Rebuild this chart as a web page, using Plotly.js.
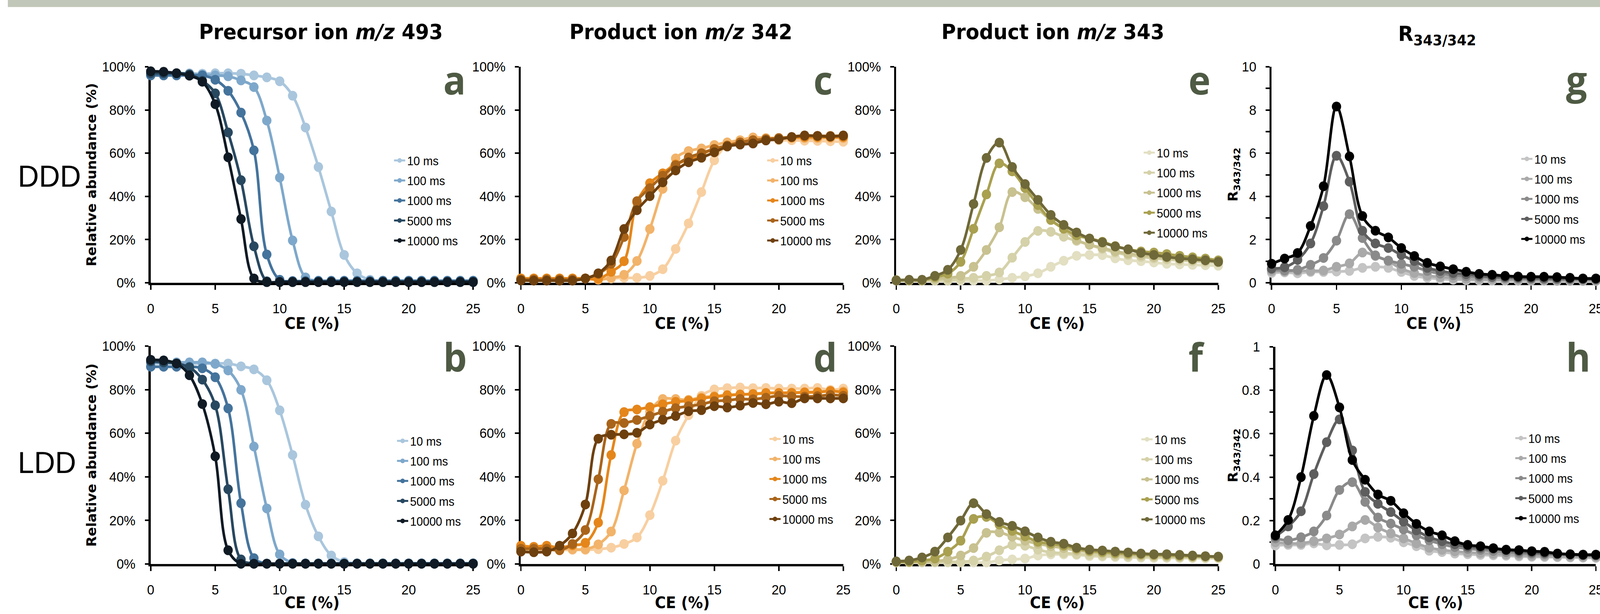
<!DOCTYPE html>
<html>
<head>
<meta charset="utf-8">
<script src="https://cdn.plot.ly/plotly-3.0.1.min.js"></script>
<style>html,body{margin:0;padding:0;background:#fff;overflow:hidden;}#chart{width:4288px;height:1572px;transform-origin:0 0;}</style>
</head>
<body>
<div id="chart"></div>
<script>
// ---------- data ----------
const CE = [0,1,2,3,4,5,6,7,8,9,10,11,12,13,14,15,16,17,18,19,20,21,22,23,24,25];
const seriesNames = ["10 ms","100 ms","1000 ms","5000 ms","10000 ms"];

// (a) DDD precursor m/z 493
const a10    = [97,97,97,97,96.8,97,97,96.8,96,95.1,93.3,86.6,71.9,53.6,33,12.9,4.4,1.4,1,1,1,1,1,1,1,1];
const a100   = [96.5,96.5,96.5,96.4,96.3,96,95.6,93.7,90.6,75.1,48.7,19.6,2.5,1,1,1,1,1,1,1,1,1,1,1,1,1];
const a1000  = [96,96,96,96,96,94,88.9,78.8,61.3,13.1,1.4,0.8,0.8,0.8,0.8,0.8,0.8,0.8,0.8,0.8,0.8,0.8,0.8,0.8,0.8,0.8];
const a5000  = [97,97,97,96.5,93.5,87.7,69.6,47.5,16.9,0.7,0.5,0.5,0.5,0.5,0.5,0.5,0.5,0.5,0.5,0.5,0.5,0.5,0.5,0.5,0.5,0.5];
const a10000 = [97.9,97.7,97,95.9,93.1,82.7,58.1,29.5,2,0.3,0.3,0.3,0.3,0.3,0.3,0.3,0.3,0.3,0.3,0.3,0.3,0.3,0.3,0.3,0.3,0.3];

// (b) LDD precursor m/z 493
const b10    = [92,92,92,92,92,92,92,90.7,89.3,84.3,70.5,50,27.2,12.7,3.9,0.9,0.3,0.3,0.3,0.3,0.3,0.3,0.3,0.3,0.3,0.3];
const b100   = [92.5,92.5,92.5,92.5,92.5,91.8,88.8,79.9,53.9,25.5,4.4,0.5,0.3,0.3,0.3,0.3,0.3,0.3,0.3,0.3,0.3,0.3,0.3,0.3,0.3,0.3];
const b1000  = [90.5,90.5,90.5,90.5,89.8,85.7,71.4,27.9,2.7,0.2,0.2,0.2,0.2,0.2,0.2,0.2,0.2,0.2,0.2,0.2,0.2,0.2,0.2,0.2,0.2,0.2];
const b5000  = [93,92.5,92,90.2,84.6,72.8,34.3,2.1,0.2,0.2,0.2,0.2,0.2,0.2,0.2,0.2,0.2,0.2,0.2,0.2,0.2,0.2,0.2,0.2,0.2,0.2];
const b10000 = [93.7,93.4,92,86.6,73.4,49.4,6.3,0.1,0.1,0.1,0.1,0.1,0.1,0.1,0.1,0.1,0.1,0.1,0.1,0.1,0.1,0.1,0.1,0.1,0.1,0.1];

// (c) DDD product m/z 342
const c10    = [2,2,2,2,2,2,2,2,2.3,2.3,3.2,6.3,15.7,27.5,42,56.7,63.6,65.4,66.5,66.5,66,66,65.8,65.7,65.5,65.3];
const c100   = [2,2,2,2,2,2,1.4,2.3,3.7,10.1,24.9,43.5,57.6,61,62.2,63.8,65,66,67.3,67,67,67,67,67,67,67];
const c1000  = [2,2,2,2,2,2,1.8,5.1,10,37.3,46.1,50.7,54.8,57,59.5,62,63.5,65,66,66.5,67,67.3,67.5,67.5,67.5,67.5];
const c5000  = [1.5,1.5,1.5,1.5,1.5,2,4.1,8.8,21.2,37.8,43.8,49.6,54.4,58,60,62,63.5,65,66,66.5,67,67.5,68,68,68,68];
const c10000 = [1.1,1,1,1,1,2,4.4,10.3,24.9,33.6,40.1,46.5,52,55.8,57.9,60.4,63.1,64,64.5,65.9,66.4,67.5,68.2,68,67.7,68.2];

// (d) LDD product m/z 342
const d10    = [6.5,6.5,6.5,6.5,6.5,6.5,6.8,7.5,9.2,12.2,22.4,38.2,56.6,68.3,77.2,80.1,80.7,81,80.7,80.8,80.5,80.5,80.5,80.8,79.9,80.5];
const d100   = [7.5,7.5,7.5,7.5,6.8,6.8,9,14.9,33.8,55.2,70,75.7,75.7,75.3,76.5,77,77.5,77.8,78,78.3,78.5,78.7,78.9,79,79.2,79.2];
const d1000  = [8.4,7.9,8.4,7.5,8.6,9.7,19,50,69.7,70.9,72,73.3,74.4,74.9,76,76.7,77.4,77.8,78,78.5,78.5,78.5,78.7,78.8,79.4,78.7];
const d5000  = [7,7,7,6.3,9.2,15.6,38.9,64.3,64.7,66.1,67.9,69.9,71.5,72.4,73.3,74.7,75.1,75.7,75.6,76.3,77.2,76.9,76.8,77,77.6,77.2];
const d10000 = [5.7,5.4,5.7,8.4,14,27.3,57.5,59.3,59.5,60.2,64,66.2,67.9,70.1,70.6,72.4,71.8,72.7,73.9,73.3,74.5,73.8,76,76,76,76];

// (e) DDD product m/z 343
const e10    = [1,1,1,1,1,1,1,1,1.5,2.3,3,4.4,7.4,10.2,12.5,12.9,12.8,11.3,10.4,10,9.4,8.8,8.5,8.3,8.1,7.9];
const e100   = [1,1,1,1,1,1.8,2.3,3.2,4.8,11.6,18.9,24,23.6,21.3,19.4,17.6,15.7,14,12.9,12,11.3,10.8,10.3,10,9.6,9.3];
const e1000  = [1,1,1,1.8,2.3,3.2,7.4,15.2,25.7,42,39.6,34.2,29.1,25,19.9,17.6,16.2,14.6,13.5,12.8,12,11.5,11,10.5,10.2,10];
const e5000  = [1.2,1.2,1.2,2.6,4.2,9.7,25,40.9,55.3,51.6,43.9,36,29.1,25,22,20.5,19,17,15.5,14.5,14,13.3,12.5,11.8,11.2,10.4];
const e10000 = [1.1,1.4,1.4,3.2,6,15.2,36.5,57.8,64.9,53.6,45.7,38.4,31.4,26.8,23.3,20.5,18.7,16.8,15.5,13.9,12.9,12,11.3,10.9,10.4,9.7];

// (f) LDD product m/z 343
const f10    = [0.7,0.7,0.7,0.7,0.7,0.7,0.7,0.7,1.6,2.1,2.5,3.9,4.4,4.4,4.2,3.6,3.4,3.2,3,2.9,2.8,2.8,2.7,2.7,2.6,2.6];
const f100   = [1,1,1,1,1,1,1.6,3.4,6.3,8.7,8.4,6.6,5.3,5,4.6,4.2,3.9,3.7,3.5,3.4,3.3,3.2,3.1,3.1,3,3];
const f1000  = [1,1,1,1.2,2.1,3.9,7.3,14.3,14.5,12.5,10.7,9.3,8.2,7.3,6.2,5.5,5,4.5,4.2,4,3.8,3.6,3.4,3.3,3.2,3.1];
const f5000  = [1,1,1.6,2.5,5.7,10.7,20.7,21.6,18.1,15.2,12.7,10.2,9.3,8.4,7,6,5.5,5,4.7,4.4,4.2,4,3.8,3.6,3.5,3.3];
const f10000 = [1.2,1.6,3,5.7,12.2,19.9,27.9,22.9,19.3,17.5,15,12.2,10.2,9.3,7.5,6.6,6.2,5.7,5.3,4.8,4.5,4.5,4.2,3.9,3.6,3.4];

// (g) DDD ratio R343/342
const g10    = [0.46,0.48,0.44,0.5,0.5,0.52,0.55,0.69,0.74,0.69,0.5,0.32,0.23,0.18,0.14,0.12,0.11,0.1,0.1,0.09,0.09,0.09,0.08,0.08,0.08,0.08];
const g100   = [0.55,0.53,0.55,0.55,0.57,0.74,0.9,1.4,1.24,1.0,0.65,0.45,0.33,0.27,0.22,0.18,0.16,0.15,0.14,0.13,0.12,0.12,0.11,0.11,0.1,0.1];
const g1000  = [0.63,0.57,0.6,0.83,1.15,1.95,3.18,2.07,1.27,1.03,0.88,0.74,0.55,0.42,0.35,0.3,0.27,0.24,0.22,0.2,0.18,0.17,0.16,0.15,0.15,0.14];
const g5000  = [0.66,0.72,1.06,1.82,3.55,5.88,4.68,2.41,1.82,1.61,1.29,1.01,0.69,0.55,0.45,0.4,0.33,0.28,0.26,0.24,0.22,0.21,0.2,0.19,0.18,0.17];
const g10000 = [0.88,1.12,1.38,2.63,4.47,8.16,5.85,3.09,2.41,2.1,1.61,1.24,0.92,0.76,0.63,0.51,0.41,0.37,0.32,0.29,0.28,0.28,0.26,0.23,0.2,0.2];

// (h) LDD ratio R343/342
const h10    = [0.085,0.088,0.088,0.095,0.086,0.088,0.091,0.118,0.125,0.121,0.1,0.082,0.061,0.055,0.048,0.045,0.042,0.04,0.038,0.035,0.033,0.032,0.031,0.03,0.029,0.028];
const h100   = [0.1,0.095,0.095,0.105,0.118,0.136,0.173,0.203,0.168,0.141,0.118,0.095,0.075,0.065,0.058,0.053,0.05,0.047,0.044,0.041,0.038,0.037,0.035,0.034,0.033,0.032];
const h1000  = [0.118,0.109,0.123,0.15,0.223,0.341,0.377,0.286,0.214,0.186,0.159,0.132,0.109,0.091,0.078,0.07,0.065,0.06,0.055,0.05,0.047,0.045,0.043,0.041,0.039,0.038];
const h5000  = [0.127,0.173,0.243,0.414,0.561,0.666,0.523,0.332,0.277,0.239,0.195,0.155,0.123,0.105,0.091,0.08,0.075,0.07,0.063,0.058,0.053,0.05,0.047,0.044,0.042,0.04];
const h10000 = [0.132,0.203,0.4,0.682,0.87,0.721,0.479,0.388,0.32,0.291,0.234,0.185,0.15,0.132,0.105,0.088,0.082,0.073,0.066,0.064,0.059,0.056,0.048,0.045,0.043,0.043];

const blues   = ["#a9c6dd","#7ea8cb","#44739c","#284860","#0f1a24"];
const oranges = ["#f8cfa0","#f2b36a","#e5861a","#a9641a","#6e400e"];
const olives  = ["#e2dfc2","#d5d1a9","#c8c190","#a9a050","#6f6838"];
const greys   = ["#c4c4c4","#a9a9a9","#8a8a8a","#5e5e5e","#000000"];

// ---------- layout helpers ----------
const W = 4288, H = 1572;
const px = v => v / W;
const py = v => 1 - v / H;

// fit the 4288x1572 figure into the actual viewport
const chartDiv = document.getElementById("chart");
const sx = (window.innerWidth || W) / W, sy = (window.innerHeight || H) / H;
if (Math.abs(sx - 1) > 0.001 || Math.abs(sy - 1) > 0.001) {
  chartDiv.style.transform = "scale(" + sx + "," + sy + ")";
}

const panels = [
  {id:"a", ax:"",  data:[a10,a100,a1000,a5000,a10000], colors:blues,   xd:[404,1268],  yd:[171,724],  yr:[0,100], dt:20,  pct:true,  leg:[1111,408]},
  {id:"b", ax:"2", data:[b10,b100,b1000,b5000,b10000], colors:blues,   xd:[404,1268],  yd:[886,1444], yr:[0,100], dt:20,  pct:true,  leg:[1119,1126]},
  {id:"c", ax:"3", data:[c10,c100,c1000,c5000,c10000], colors:oranges, xd:[1396,2260], yd:[171,724],  yr:[0,100], dt:20,  pct:true,  leg:[2111,408]},
  {id:"d", ax:"4", data:[d10,d100,d1000,d5000,d10000], colors:oranges, xd:[1396,2260], yd:[886,1444], yr:[0,100], dt:20,  pct:true,  leg:[2117,1121]},
  {id:"e", ax:"5", data:[e10,e100,e1000,e5000,e10000], colors:olives,  xd:[2402,3265], yd:[171,724],  yr:[0,100], dt:20,  pct:true,  leg:[3120,388]},
  {id:"f", ax:"6", data:[f10,f100,f1000,f5000,f10000], colors:olives,  xd:[2402,3265], yd:[886,1444], yr:[0,100], dt:20,  pct:true,  leg:[3114,1122]},
  {id:"g", ax:"7", data:[g10,g100,g1000,g5000,g10000], colors:greys,   xd:[3408,4277], yd:[171,724],  yr:[0,10],  dt:2,   pct:false, minor:1,   leg:[4132,404]},
  {id:"h", ax:"8", data:[h10,h100,h1000,h5000,h10000], colors:greys,   xd:[3418,4277], yd:[888,1444], yr:[0,1],   dt:0.2, pct:false, minor:0.1, leg:[4116,1119]}
];

const tickFont = {family:"Liberation Sans, Arial, sans-serif", size:35, color:"#000"};
const traces = [];
const layout = {
  width: W, height: H,
  margin: {l:0, r:0, t:0, b:0},
  paper_bgcolor: "#ffffff", plot_bgcolor: "rgba(0,0,0,0)",
  showlegend: true,
  annotations: [], shapes: []
};

panels.forEach((p, pi) => {
  const legName = pi === 0 ? "legend" : "legend" + (pi + 1);
  p.data.forEach((vals, si) => {
    traces.push({
      type: "scatter", mode: "lines+markers",
      x: CE, y: vals, name: seriesNames[si],
      xaxis: "x" + p.ax, yaxis: "y" + p.ax,
      line: {color: p.colors[si], width: 7, shape: "spline", smoothing: 1},
      marker: {color: p.colors[si], size: 25},
      cliponaxis: false,
      legend: legName, legendgroup: p.id + si,
      hoverinfo: "skip"
    });
  });
  layout["xaxis" + p.ax] = {
    domain: [px(p.xd[0]), px(p.xd[1])], anchor: "y" + p.ax,
    range: [0, 25], tick0: 0, dtick: 5, ticks: "outside", ticklen: 12, tickwidth: 4, tickcolor: "#000",
    showline: true, linewidth: 6, linecolor: "#000", showgrid: false, zeroline: false,
    tickfont: tickFont, ticklabelstandoff: 18, ticklabeloverflow: "allow",
    layer: "below traces", fixedrange: true
  };
  const ya = {
    domain: [py(p.yd[1]), py(p.yd[0])], anchor: "x" + p.ax,
    range: p.yr, tick0: 0, dtick: p.dt, ticks: "outside", ticklen: 10, tickwidth: 4, tickcolor: "#000",
    showline: true, linewidth: 6, linecolor: "#000", showgrid: false, zeroline: false,
    tickfont: tickFont, ticklabelstandoff: 18, ticklabeloverflow: "allow",
    layer: "below traces", fixedrange: true
  };
  if (p.pct) ya.ticksuffix = "%";
  if (p.minor) ya.minor = {dtick: p.minor, ticks: "outside", ticklen: 10, tickwidth: 4, tickcolor: "#000", showgrid: false};
  layout["yaxis" + p.ax] = ya;
  layout[legName] = {
    x: px(p.leg[0] - 60), y: py(p.leg[1] - 24), xanchor: "left", yanchor: "top",
    bgcolor: "rgba(0,0,0,0)", borderwidth: 0, tracegroupgap: 8, itemsizing: "constant",
    font: {family: "Liberation Sans, Arial, sans-serif", size: 31, color: "#000"}
  };
  // panel letter
  layout.annotations.push({
    xref: "paper", yref: "paper", x: px(p.xd[1] - 82), y: py(p.yd[0] === 171 ? 203 : 913),
    xanchor: "left", yanchor: "middle", showarrow: false, text: p.id,
    font: {family: "Open Sans, sans-serif", size: 100, color: "#4e5a43", weight: 700}
  });
  // x-axis title
  layout.annotations.push({
    xref: "paper", yref: "paper", x: px((p.xd[0] + p.xd[1]) / 2), y: py(p.yd[0] === 171 ? 828 : 1543),
    xanchor: "center", yanchor: "middle", showarrow: false, text: "CE (%)",
    font: {family: "DejaVu Sans, Verdana, sans-serif", size: 40, color: "#000", weight: 700}
  });
});

const titleFont = {family: "DejaVu Sans, Verdana, sans-serif", size: 53, color: "#000", weight: 700};
const colTitles = [
  {t: "Precursor ion <i>m/z</i> 493", x: 860, y: 81},
  {t: "Product ion <i>m/z</i> 342",   x: 1825, y: 81},
  {t: "Product ion <i>m/z</i> 343",   x: 2822, y: 81},
  {t: "R<sub>343/342</sub>",          x: 3851, y: 90}
];
colTitles.forEach(c => layout.annotations.push({
  xref: "paper", yref: "paper", x: px(c.x), y: py(c.y), xanchor: "center", yanchor: "middle",
  showarrow: false, text: c.t, font: titleFont
}));

const rowLabels = [{t: "DDD", y: 451}, {t: "LDD", y: 1184}];
rowLabels.forEach(r => layout.annotations.push({
  xref: "paper", yref: "paper", x: px(46), y: py(r.y), xanchor: "left", yanchor: "middle",
  showarrow: false, text: r.t, font: {family: "Liberation Sans, Arial, sans-serif", size: 78, color: "#000"}
}));

const yTitles = [
  {t: "Relative abundance (%)", x: 246, y: 447},
  {t: "Relative abundance (%)", x: 246, y: 1165},
  {t: "R<sub>343/342</sub>", x: 3307, y: 447},
  {t: "R<sub>343/342</sub>", x: 3307, y: 1166}
];
yTitles.forEach(t => layout.annotations.push({
  xref: "paper", yref: "paper", x: px(t.x), y: py(t.y), xanchor: "center", yanchor: "middle",
  textangle: -90, showarrow: false, text: t.t,
  font: {family: "DejaVu Sans, Verdana, sans-serif", size: 35, color: "#000", weight: 700}
}));

layout.shapes.push({
  type: "rect", xref: "paper", yref: "paper", x0: px(21), x1: 1, y0: py(18), y1: 1,
  fillcolor: "#c1c8b9", line: {width: 0}, layer: "below"
});

Plotly.newPlot("chart", traces, layout, {displayModeBar: false, staticPlot: true});
</script>
</body>
</html>
